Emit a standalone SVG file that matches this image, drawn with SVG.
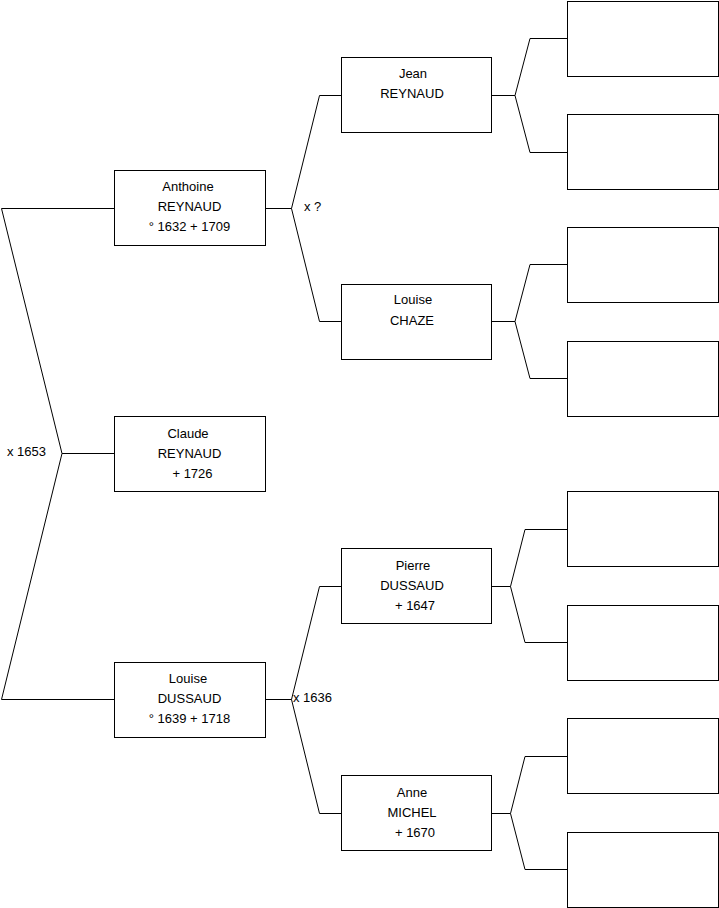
<svg xmlns="http://www.w3.org/2000/svg" width="719" height="908" viewBox="0 0 719 908">
<style>
.box{fill:#fff;stroke:#000;stroke-width:1}
.ln{fill:none;stroke:#000;stroke-width:1}
text{font-family:"Liberation Sans",Arial,sans-serif;font-size:13px;fill:#000}
.c{text-anchor:middle}
</style>
<rect width="719" height="908" fill="#fff"/>
<g id="connectors">
<path class="ln" d="M114.5,208.5 H1.5 L62,453.5 L1.5,699.5 H114.5 M62,453.5 H114.5"/>
<path class="ln" d="M265.5,208.5 H291.5 M341.5,95.5 H319.5 L291.5,208.5 L319.5,321.5 H341.5"/>
<path class="ln" d="M265.5,699.5 H291.5 M341.5,586.5 H319.5 L291.5,699.5 L319.5,813.5 H341.5"/>
<path class="ln" d="M491.5,95.5 H515 M567.5,38.5 H530 L515,95.5 L530,152.5 H567.5"/>
<path class="ln" d="M491.5,321.5 H515 M567.5,264.5 H530 L515,321.5 L530,378.5 H567.5"/>
<path class="ln" d="M491.5,586.5 H510.5 M567.5,529.5 H525 L510.5,586.5 L525,642.5 H567.5"/>
<path class="ln" d="M491.5,813.5 H510.5 M567.5,756.5 H525 L510.5,813.5 L525,869.5 H567.5"/>
<text x="7" y="456">x 1653</text>
<text x="304" y="211">x ?</text>
<text x="293" y="702">x 1636</text>
</g>
<g id="anthoine">
<rect class="box" x="114.5" y="170.5" width="151" height="75"/>
<text class="c" x="188" y="191">Anthoine</text>
<text class="c" x="189.5" y="211">REYNAUD</text>
<text class="c" x="189.5" y="231">° 1632 + 1709</text>
</g>
<g id="claude">
<rect class="box" x="114.5" y="416.5" width="151" height="75"/>
<text class="c" x="188" y="438">Claude</text>
<text class="c" x="189.5" y="458">REYNAUD</text>
<text class="c" x="192.5" y="478">+ 1726</text>
</g>
<g id="louise-dussaud">
<rect class="box" x="114.5" y="662.5" width="151" height="75"/>
<text class="c" x="188" y="683">Louise</text>
<text class="c" x="189.5" y="703">DUSSAUD</text>
<text class="c" x="189.5" y="723">° 1639 + 1718</text>
</g>
<g id="jean">
<rect class="box" x="341.5" y="57.5" width="150" height="75"/>
<text class="c" x="413" y="78">Jean</text>
<text class="c" x="412" y="98">REYNAUD</text>
</g>
<g id="louise-chaze">
<rect class="box" x="341.5" y="284.5" width="150" height="75"/>
<text class="c" x="413" y="304">Louise</text>
<text class="c" x="412" y="325">CHAZE</text>
</g>
<g id="pierre">
<rect class="box" x="341.5" y="548.5" width="150" height="75"/>
<text class="c" x="413" y="570">Pierre</text>
<text class="c" x="412" y="590">DUSSAUD</text>
<text class="c" x="415" y="610">+ 1647</text>
</g>
<g id="anne">
<rect class="box" x="341.5" y="775.5" width="150" height="75"/>
<text class="c" x="412" y="797">Anne</text>
<text class="c" x="412" y="817">MICHEL</text>
<text class="c" x="415" y="837">+ 1670</text>
</g>
<g id="empty1"><rect class="box" x="567.5" y="1.5" width="151" height="75"/></g>
<g id="empty2"><rect class="box" x="567.5" y="114.5" width="151" height="75"/></g>
<g id="empty3"><rect class="box" x="567.5" y="227.5" width="151" height="75"/></g>
<g id="empty4"><rect class="box" x="567.5" y="341.5" width="151" height="75"/></g>
<g id="empty5"><rect class="box" x="567.5" y="491.5" width="151" height="75"/></g>
<g id="empty6"><rect class="box" x="567.5" y="605.5" width="151" height="75"/></g>
<g id="empty7"><rect class="box" x="567.5" y="718.5" width="151" height="75"/></g>
<g id="empty8"><rect class="box" x="567.5" y="832.5" width="151" height="75"/></g>
</svg>
